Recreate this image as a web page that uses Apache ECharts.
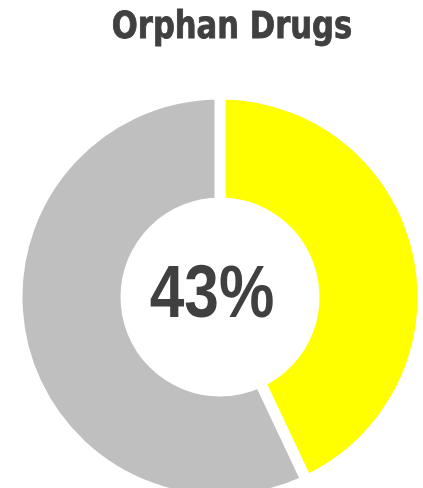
<!DOCTYPE html>
<html>
<head>
<meta charset="utf-8">
<script src="https://cdn.jsdelivr.net/npm/echarts@6/dist/echarts.min.js"></script>
<style>
html,body{margin:0;padding:0;background:#fff;}
#c{width:423px;height:488px;}
</style>
</head>
<body>
<div id="c"></div>
<script>
const chartTitle = 'Orphan Drugs';
const categories = ['Orphan Drugs', 'Other'];
const values = [43, 57];
const colors = ['#FFFF00', '#BFBFBF'];

const total = values.reduce((a, b) => a + b, 0);
const pct = Math.round(values[0] / total * 100);

const chart = echarts.init(document.getElementById('c'), null, {renderer: 'canvas'});
chart.setOption({
  animation: false,
  backgroundColor: '#ffffff',
  graphic: [
    {
      type: 'text',
      x: 232,
      y: 28,
      scaleX: 0.92,
      style: {
        x: 0, y: 0,
        text: chartTitle,
        align: 'center',
        verticalAlign: 'middle',
        font: 'bold 37px "DejaVu Sans Condensed", "DejaVu Sans", sans-serif',
        fill: '#404040',
        stroke: '#404040',
        lineWidth: 0.8
      }
    },
    {
      type: 'text',
      x: 212,
      y: 296,
      scaleX: 0.83,
      z: 100,
      style: {
        x: 0, y: 0,
        text: pct + '%',
        align: 'center',
        verticalAlign: 'middle',
        font: 'bold 75px "Liberation Sans", Arial, sans-serif',
        fill: '#404040'
      }
    }
  ],
  series: [{
    type: 'pie',
    center: [220, 297],
    radius: [94, 203],
    startAngle: 90,
    clockwise: true,
    label: {show: false},
    labelLine: {show: false},
    emphasis: {disabled: true},
    itemStyle: {borderColor: '#ffffff', borderWidth: 11},
    data: categories.map((n, i) => ({name: n, value: values[i], itemStyle: {color: colors[i]}}))
  }]
});
</script>
</body>
</html>
